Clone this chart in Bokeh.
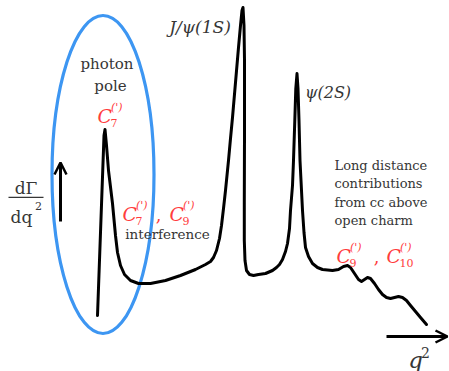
from bokeh.plotting import figure
from bokeh.models import Range1d, Label, Arrow, OpenHead, BoxAnnotation
from bokeh.embed import file_html
from bokeh.resources import INLINE

# schematic spectrum dGamma/dq2 vs q2 (arbitrary units)
q2 = [0.0, 0.65, 0.75, 0.9, 1.1, 1.5, 1.8, 2.0, 2.3, 2.7, 3.3, 4.1, 5.3, 6.8,
      8.3, 9.8, 10.8, 11.3, 11.6, 11.9, 12.2, 12.4, 12.6, 12.8, 13.1, 13.3,
      13.5, 13.8, 14.1, 14.3, 14.45, 14.55, 14.65, 14.7, 14.7, 14.68, 14.68,
      14.75, 14.9, 15.2, 15.6, 16.1, 16.8, 17.5, 17.9, 18.2, 18.5, 18.8, 19.0,
      19.2, 19.3, 19.5, 19.6, 19.73, 19.83, 19.95, 20.05, 20.15, 20.25, 20.4,
      20.5, 20.65, 20.8, 21.1, 21.5, 22.0, 22.5, 23.5, 24.1, 24.6, 25.0, 25.3,
      25.7, 26.1, 26.4, 26.7, 27.0, 27.3, 27.7, 28.1, 28.5, 28.9, 29.3, 29.7,
      30.1, 30.5, 30.9, 31.3, 31.8, 32.3, 32.9]
rate = [2.0, 20.0, 20.6, 19.0, 16.5, 13.2, 10.0, 8.3, 7.0, 6.1, 5.5, 5.2, 5.2,
        5.5, 6.0, 6.6, 7.1, 7.4, 7.8, 8.5, 9.7, 11.0, 12.7, 14.5, 17.5, 19.7,
        21.8, 25.3, 28.8, 31.0, 32.5, 32.8, 31.0, 27.5, 20.2, 13.5, 9.5,
        7.5, 6.5, 6.1, 6.0, 6.1, 6.2, 6.5, 6.8, 7.1, 7.6, 8.4, 9.2,
        10.7, 12.5, 15.0, 17.5, 21.5, 24.7, 26.2, 24.7, 21.5, 17.5, 14.5,
        12.5, 10.3, 8.8, 7.9, 7.2, 6.8, 6.6, 6.5, 6.6, 6.9, 7.0, 6.8,
        6.2, 5.6, 5.4, 5.6, 5.8, 5.7, 5.2, 4.6, 4.1, 3.8, 3.7, 3.8,
        3.9, 3.8, 3.5, 3.0, 2.4, 1.8, 1.1]

# photon pole region (ellipse)
pole_x = [0.55]
pole_y = [16.1]
pole_w = [10.2]
pole_h = [31.8]

long_distance_lines = ["Long distance", "contributions", "from cc above",
                       "open charm"]

W, H = 449, 371
p = figure(width=W, height=H, output_backend="svg", toolbar_location=None,
           x_range=Range1d(-9.7, 35.2), y_range=Range1d(-3.6, 33.5),
           x_axis_type=None, y_axis_type=None, min_border=0)
p.grid.visible = False
p.outline_line_color = None
p.background_fill_color = "white"


def X(px):
    return (px - 97) / 10.0


def Y(py):
    return (335 - py) / 10.0


p.ellipse(x=pole_x, y=pole_y, width=pole_w, height=pole_h,
          fill_color=None, line_color="#3D96F2", line_width=3.2)
p.line(q2, rate, line_color="black", line_width=3, line_join="round",
       line_cap="round")

SERIF = "DejaVu Serif"
GREY = "#363636"
RED = "#FF3D3D"


def lab(px, py, text, size, color=GREY, style="normal", align="center",
        baseline="alphabetic", font=SERIF):
    p.add_layout(Label(x=X(px), y=Y(py), text=text, text_font=font,
                       text_font_size=f"{size}px", text_color=color,
                       text_font_style=style, text_align=align,
                       text_baseline=baseline))


def coeff(px, py, sub, size=19):
    # calligraphic-like C with subscript and (') superscript
    lab(px, py, "C", size, RED, "italic", "left")
    lab(px + 13, py + 7, sub, 11, RED, "normal", "left")
    lab(px + 13.5, py - 8, "(')", 11, RED, "italic", "left")


# photon pole labels
lab(106.5, 63.5, "photon", 15)
lab(110, 85, "pole", 15)
coeff(97, 115, "7")

# interference
coeff(122, 213, "7")
lab(158, 213, ",", 18, RED)
coeff(169, 213, "9")
lab(167, 233, "interference", 13.5)

# resonances
lab(199.5, 26, "J/ψ(1S)", 17, GREY, "italic")
lab(327.5, 92, "ψ(2S)", 16, GREY, "italic")

# long distance text
for i, t in enumerate(long_distance_lines):
    lab(334, 165 + i * 18.4, t, 13, GREY, "normal", "left")
coeff(336, 255, "9")
lab(376, 255, ",", 18, RED)
coeff(386, 255, "10")

# axes arrows
p.add_layout(Arrow(end=OpenHead(size=12, line_width=2.5, line_color="black"),
                   x_start=X(60), y_start=Y(221), x_end=X(60), y_end=Y(162),
                   line_width=3, line_color="black"))
p.add_layout(Arrow(end=OpenHead(size=12, line_width=2.5, line_color="black"),
                   x_start=X(386), y_start=Y(336), x_end=X(447), y_end=Y(336),
                   line_width=3, line_color="black"))

# y label dGamma/dq2
lab(25.5, 187, "dΓ", 17)
p.add_layout(BoxAnnotation(left=X(8), right=X(43), bottom=Y(197.6),
                           top=Y(196.2), fill_color="#363636", fill_alpha=1,
                           line_color=None))
lab(21, 216, "dq", 17, style="normal")
lab(34.5, 209, "2", 11, align="left", baseline="bottom")

# x label q2
lab(415, 359, "q", 23, GREY, "italic")
lab(425, 352, "2", 14)

open("out.html", "w").write(file_html(p, INLINE))
